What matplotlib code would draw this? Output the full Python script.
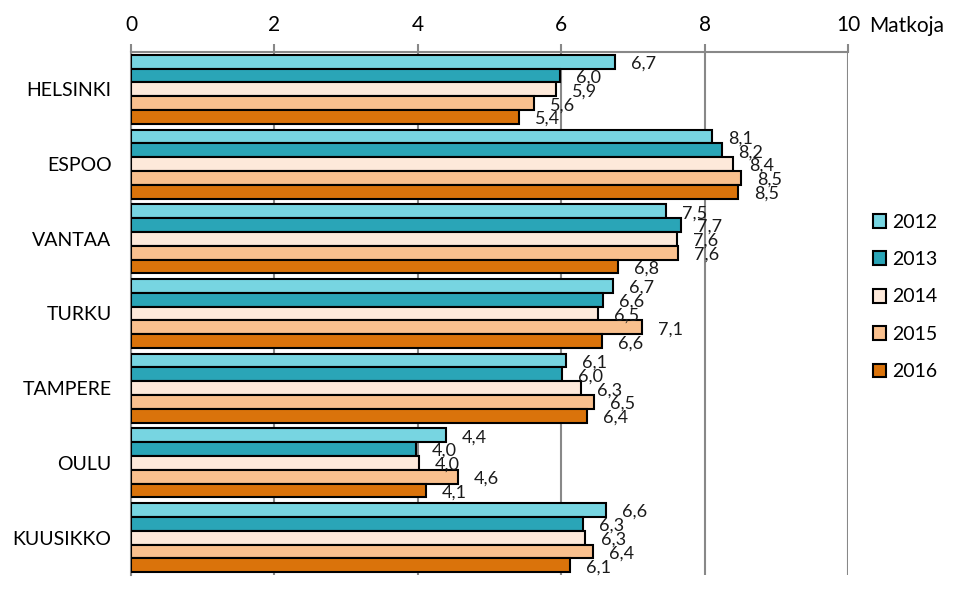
import matplotlib
matplotlib.use("Agg")
import matplotlib.pyplot as plt
import numpy as np

plt.rcParams['font.family'] = ['Lato', 'DejaVu Sans']

categories = ["HELSINKI", "ESPOO", "VANTAA", "TURKU", "TAMPERE", "OULU", "KUUSIKKO"]
years = ["2012", "2013", "2014", "2015", "2016"]
# bar lengths
v2012 = [6.75, 8.10, 7.46, 6.72, 6.07, 4.39, 6.62]
v2013 = [5.98, 8.24, 7.67, 6.58, 6.01, 3.97, 6.30]
v2014 = [5.93, 8.40, 7.62, 6.51, 6.28, 4.02, 6.33]
v2015 = [5.62, 8.51, 7.63, 7.13, 6.46, 4.56, 6.44]
v2016 = [5.41, 8.47, 6.79, 6.57, 6.36, 4.11, 6.12]
# printed data labels
l2012 = ["6,7", "8,1", "7,5", "6,7", "6,1", "4,4", "6,6"]
l2013 = ["6,0", "8,2", "7,7", "6,6", "6,0", "4,0", "6,3"]
l2014 = ["5,9", "8,4", "7,6", "6,5", "6,3", "4,0", "6,3"]
l2015 = ["5,6", "8,5", "7,6", "7,1", "6,5", "4,6", "6,4"]
l2016 = ["5,4", "8,5", "6,8", "6,6", "6,4", "4,1", "6,1"]
colors = ["#77D5E1", "#2AA5B7", "#FDE9DA", "#F9C08E", "#DA730B"]

series = [v2012, v2013, v2014, v2015, v2016]
labels = [l2012, l2013, l2014, l2015, l2016]

fig = plt.figure(figsize=(9.56, 5.93), dpi=100)
ax = fig.add_axes([131/956, 1-575/593, (848-131)/956, (575-52)/593])

n = len(years)
bh = 0.185
y = np.arange(len(categories))
for i in range(n):
    pos = y - (n-1)/2*bh + i*bh
    ax.barh(pos, series[i], height=bh, color=colors[i], edgecolor='black',
            linewidth=1.5, label=years[i], zorder=3)
    for p, v, t in zip(pos, series[i], labels[i]):
        ax.annotate(t, (v, p), xytext=(16, -2), textcoords='offset pixels',
                    ha='left', va='center', fontsize=13, color='#1a1a1a', zorder=4)

ax.set_xlim(0, 10)
ax.set_ylim(len(categories)-0.5, -0.5)
ax.set_xticks([0, 2, 4, 6, 8, 10])
ax.xaxis.tick_top()
ax.tick_params(axis='x', direction='out', length=6, width=1.5, color='#888888',
               labelsize=15, pad=6)
ax.set_yticks(y)
ax.set_yticklabels(categories)
ax.tick_params(axis='y', length=0, labelsize=14, pad=14)
ax.grid(axis='x', color='#888888', linewidth=1.5, zorder=0)
for s in ['right', 'bottom']:
    ax.spines[s].set_visible(False)
for s in ['top', 'left']:
    ax.spines[s].set_color('#888888')
    ax.spines[s].set_linewidth(1.5)

fig.text(869/956, 1-26/593, "Matkoja", fontsize=15, ha='left', va='center')

leg = ax.legend(loc='center left', bbox_to_anchor=(855/956, 1-297/593),
                bbox_transform=fig.transFigure, frameon=False, fontsize=14,
                handlelength=0.7, handleheight=0.7, labelspacing=1.05,
                handletextpad=0.3)

fig.savefig("out.png", dpi=100)
